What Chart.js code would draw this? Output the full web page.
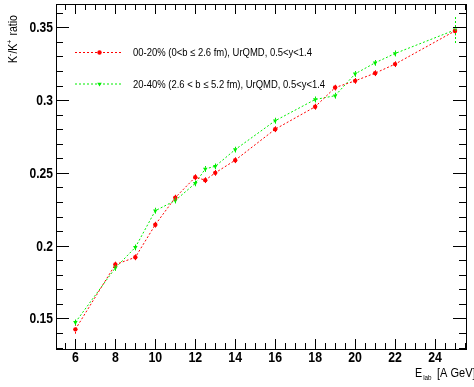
<!DOCTYPE html>
<html>
<head>
<meta charset="utf-8">
<script src="https://cdn.jsdelivr.net/npm/chart.js@4"></script>
<style>
  html, body { margin: 0; padding: 0; background: #fff; }
  #wrap { width: 474px; height: 387px; }
</style>
</head>
<body>
<div id="wrap"><canvas id="canvas"></canvas></div>
<script>
var energies = [6, 8, 9, 10, 11, 12, 12.5, 13, 14, 16, 18, 19, 20, 21, 22, 25];
var central = [0.1425, 0.187, 0.192, 0.2144, 0.233, 0.247, 0.245, 0.25, 0.2587, 0.280, 0.2954, 0.3086, 0.3132, 0.3185, 0.3247, 0.3475];
var centralErr = [0.003, 0.002, 0.002, 0.002, 0.002, 0.002, 0.002, 0.002, 0.002, 0.002, 0.002, 0.002, 0.002, 0.002, 0.002, 0.003];
var midCentral = [0.1473, 0.1847, 0.1988, 0.224, 0.231, 0.2428, 0.2527, 0.2545, 0.266, 0.2858, 0.3004, 0.303, 0.318, 0.3256, 0.332, 0.3482];
var midCentralErr = [0.002, 0.002, 0.002, 0.002, 0.002, 0.002, 0.002, 0.002, 0.002, 0.002, 0.002, 0.002, 0.002, 0.002, 0.002, 0.009];
var xTickLabels = [6, 8, 10, 12, 14, 16, 18, 20, 22, 24];
var yTickLabels = [0.15, 0.2, 0.25, 0.3, 0.35];
var labels = [
    '00-20% (0<b \u2264 2.6 fm), UrQMD, 0.5<y<1.4',
    '20-40% (2.6 < b \u2264 5.2 fm), UrQMD, 0.5<y<1.4'
];

var RED = '#ff0000';
var GREEN = '#00ee00';
var FAMILY = '"Liberation Sans", Arial, sans-serif';

function points(ys) {
    return energies.map(function(x, i) { return { x: x, y: ys[i] }; });
}

// draw text squeezed horizontally (ROOT's helvetica looks narrow)
function narrowText(ctx, txt, x, y, squeeze) {
    ctx.save();
    ctx.translate(x, y);
    ctx.scale(squeeze, 1);
    ctx.fillText(txt, 0, 0);
    ctx.restore();
    return ctx.measureText(txt).width * squeeze;
}

// ROOT style frame, inward ticks, tick labels, error bars, legend and axis titles
var rootStyle = {
    id: 'rootStyle',
    afterDatasetsDraw: function(chart) {
        var ctx = chart.ctx;
        var xs = chart.scales.x, ys = chart.scales.y;
        ctx.save();
        ctx.setLineDash([2, 2]);
        chart.data.datasets.forEach(function(ds) {
            ctx.strokeStyle = ds.borderColor;
            ctx.lineWidth = 1;
            ds.data.forEach(function(p, i) {
                var e = ds.errors[i];
                var px = Math.round(xs.getPixelForValue(p.x)) + 0.5;
                ctx.beginPath();
                ctx.moveTo(px, ys.getPixelForValue(p.y - e));
                ctx.lineTo(px, ys.getPixelForValue(p.y + e));
                ctx.stroke();
            });
        });
        ctx.restore();
    },
    afterDraw: function(chart) {
        var ctx = chart.ctx;
        var a = chart.chartArea;
        var xs = chart.scales.x, ys = chart.scales.y;
        ctx.save();
        ctx.strokeStyle = '#000';
        ctx.lineWidth = 1;
        ctx.strokeRect(Math.round(a.left) + 0.5, Math.round(a.top) + 0.5,
            Math.round(a.right - a.left), Math.round(a.bottom - a.top));

        var v, p, len;
        ctx.beginPath();
        for (v = 5.5; v <= 25.5; v += 0.5) {
            p = Math.round(xs.getPixelForValue(v)) + 0.5;
            len = (v % 2 === 0) ? 10 : 6;
            ctx.moveTo(p, a.bottom); ctx.lineTo(p, a.bottom - len);
            ctx.moveTo(p, a.top); ctx.lineTo(p, a.top + len);
        }
        for (var k = 13; k <= 36; k++) {
            v = k / 100;
            p = Math.round(ys.getPixelForValue(v)) + 0.5;
            len = (k % 5 === 0) ? 13 : 7;
            ctx.moveTo(a.left, p); ctx.lineTo(a.left + len, p);
            ctx.moveTo(a.right, p); ctx.lineTo(a.right - len, p);
        }
        ctx.stroke();

        // tick labels
        ctx.fillStyle = '#000';
        ctx.font = 'bold 14px ' + FAMILY;
        ctx.textBaseline = 'middle';
        xTickLabels.forEach(function(t) {
            var s = String(t);
            var w = ctx.measureText(s).width * 0.88;
            narrowText(ctx, s, xs.getPixelForValue(t) - w / 2, a.bottom + 9, 0.88);
        });
        yTickLabels.forEach(function(t) {
            var s = String(t);
            var w = ctx.measureText(s).width * 0.86;
            narrowText(ctx, s, a.left - 3 - w, ys.getPixelForValue(t) + 1, 0.86);
        });

        // legend
        chart.data.datasets.forEach(function(ds, i) {
            var y = 52 + i * 31.5;
            ctx.strokeStyle = ds.borderColor;
            ctx.fillStyle = ds.backgroundColor;
            ctx.setLineDash([2, 2]);
            ctx.beginPath();
            ctx.moveTo(75, y + 0.5); ctx.lineTo(123, y + 0.5);
            ctx.stroke();
            ctx.setLineDash([]);
            Chart.helpers.drawPoint(ctx, {
                pointStyle: ds.pointStyle, radius: ds.pointRadius, rotation: ds.pointRotation, borderWidth: 0
            }, 99.5, y + 0.5);
            ctx.fillStyle = '#000';
            ctx.font = '11px ' + FAMILY;
            narrowText(ctx, labels[i], 133, y + 1, 0.86);
        });

        // y axis title
        ctx.fillStyle = '#000';
        ctx.textBaseline = 'alphabetic';
        ctx.save();
        ctx.translate(17, 63);
        ctx.rotate(-Math.PI / 2);
        var x0 = 0;
        ctx.font = '12px ' + FAMILY;
        x0 += narrowText(ctx, 'K', x0, 0, 0.88);
        ctx.font = '8px ' + FAMILY;
        x0 += narrowText(ctx, '-', x0, -5, 0.88);
        ctx.font = '12px ' + FAMILY;
        x0 += narrowText(ctx, '/K', x0, 0, 0.88);
        ctx.font = '8px ' + FAMILY;
        x0 += narrowText(ctx, '+', x0, -5, 0.88);
        ctx.font = '12px ' + FAMILY;
        narrowText(ctx, ' ratio', x0 + 1, 0, 0.88);
        ctx.restore();

        // x axis title
        ctx.font = '12px ' + FAMILY;
        x0 = 415;
        x0 += narrowText(ctx, 'E', x0, 377, 0.9);
        ctx.font = '7px ' + FAMILY;
        x0 += narrowText(ctx, 'lab', x0 + 1, 380, 0.9);
        ctx.font = '12px ' + FAMILY;
        narrowText(ctx, '[A GeV]', 437, 377, 0.92);
        ctx.restore();
    }
};

var config = {
    type: 'line',
    data: {
        datasets: [{
            label: labels[0],
            data: points(central),
            errors: centralErr,
            borderColor: RED,
            backgroundColor: RED,
            borderWidth: 1,
            borderDash: [2, 2],
            pointStyle: 'circle',
            pointRadius: 2.2,
            pointRotation: 0,
            pointBorderWidth: 0
        }, {
            label: labels[1],
            data: points(midCentral),
            errors: midCentralErr,
            borderColor: GREEN,
            backgroundColor: GREEN,
            borderWidth: 1,
            borderDash: [2, 2],
            pointStyle: 'triangle',
            pointRadius: 2.6,
            pointRotation: 180,
            pointBorderWidth: 0
        }]
    },
    options: {
        responsive: true,
        maintainAspectRatio: false,
        animation: false,
        layout: { padding: { top: 3, right: 8, left: 0, bottom: 0 } },
        plugins: {
            legend: { display: false },
            tooltip: { enabled: false }
        },
        scales: {
            x: {
                type: 'linear',
                min: 5.03,
                max: 25.55,
                grid: { display: false },
                border: { display: false },
                ticks: { display: false },
                afterBuildTicks: function(scale) {
                    scale.ticks = xTickLabels.map(function(v) { return { value: v }; });
                },
                afterFit: function(scale) { scale.height = 38; }
            },
            y: {
                min: 0.129,
                max: 0.366,
                grid: { display: false },
                border: { display: false },
                ticks: { display: false },
                afterBuildTicks: function(scale) {
                    scale.ticks = yTickLabels.map(function(v) { return { value: v }; });
                },
                afterFit: function(scale) { scale.width = 56; }
            }
        }
    },
    plugins: [rootStyle]
};

function loadChart() {
    var ctx = document.getElementById('canvas').getContext('2d');
    window.myChart = new Chart(ctx, config);
}
loadChart();
</script>
</body>
</html>
